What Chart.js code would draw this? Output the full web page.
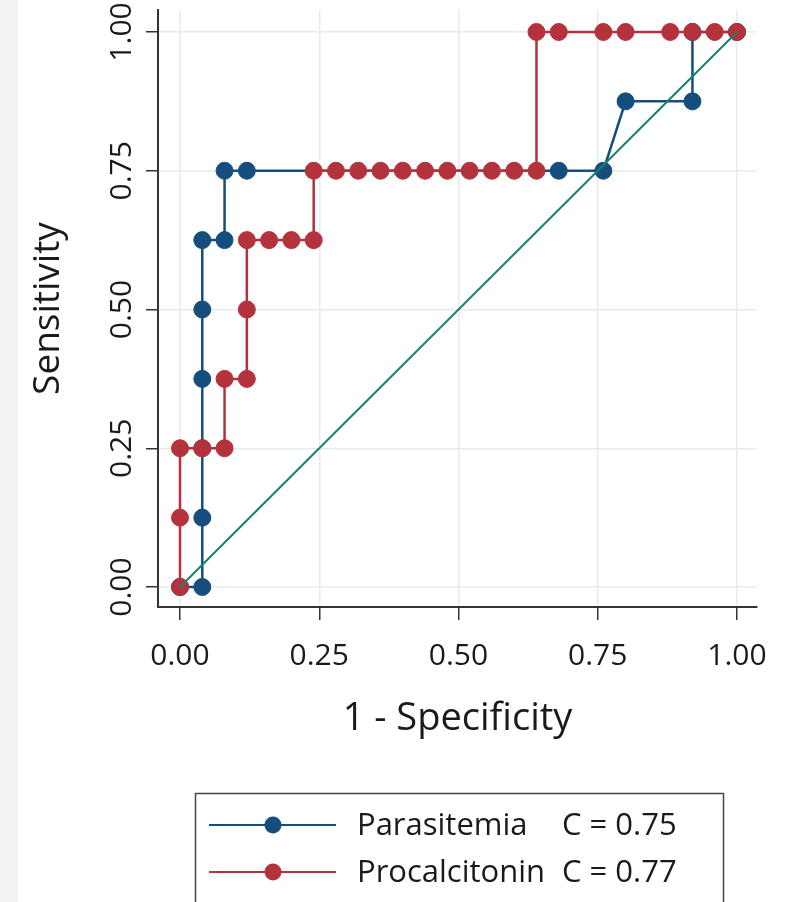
<!DOCTYPE html>
<html>
<head>
<meta charset="utf-8">
<script src="https://cdn.jsdelivr.net/npm/chart.js@4"></script>
<style>
  html, body { margin: 0; padding: 0; }
  body { background: linear-gradient(to right, #f2f2f2 18px, #ffffff 18px); width: 810px; height: 902px; overflow: hidden; }
  canvas { display: block; }
</style>
</head>
<body>
<canvas id="roc" width="810" height="902"></canvas>
<script>
// ROC curve points (1 - specificity, sensitivity)
const paraFpr = [0, 0.04, 0.04, 0.04, 0.04, 0.04, 0.04, 0.08, 0.08, 0.12, 0.68, 0.76, 0.80, 0.92, 0.92, 1.00];
const paraTpr = [0, 0, 0.125, 0.25, 0.375, 0.5, 0.625, 0.625, 0.75, 0.75, 0.75, 0.75, 0.875, 0.875, 1.00, 1.00];

const procFpr = [0, 0, 0, 0.04, 0.08, 0.08, 0.12, 0.12, 0.12, 0.16, 0.20, 0.24, 0.24,
  0.28, 0.32, 0.36, 0.40, 0.44, 0.48, 0.52, 0.56, 0.60, 0.64,
  0.64, 0.68, 0.76, 0.80, 0.88, 0.92, 0.96, 1.00];
const procTpr = [0, 0.125, 0.25, 0.25, 0.25, 0.375, 0.375, 0.5, 0.625, 0.625, 0.625, 0.625, 0.75,
  0.75, 0.75, 0.75, 0.75, 0.75, 0.75, 0.75, 0.75, 0.75, 0.75,
  1.00, 1.00, 1.00, 1.00, 1.00, 1.00, 1.00, 1.00];

const refX = [0, 1];
const refY = [0, 1];

const tickVals = [0, 0.25, 0.5, 0.75, 1];
const seriesNames = ['Parasitemia', 'Procalcitonin'];
const aucLabels = ['C = 0.75', 'C = 0.77'];

const blue = '#154e7d';
const red = '#b3323c';
const green = '#1a806a';
const axisColor = '#333';
const textColor = '#1a1a1a';
const fontFam = '"Open Sans", sans-serif';

function toPoints(xs, ys) {
  return xs.map((x, i) => ({ x: x, y: ys[i] }));
}

// y tick labels (rotated) and the boxed legend
const extras = {
  id: 'extras',
  afterDraw(chart) {
    const ctx = chart.ctx;
    const ys = chart.scales.y;
    ctx.save();
    ctx.fillStyle = textColor;
    ctx.font = '30px ' + fontFam;
    ctx.textAlign = 'center';
    ctx.textBaseline = 'middle';
    tickVals.forEach(v => {
      ctx.save();
      ctx.translate(122, ys.getPixelForValue(v));
      ctx.rotate(-Math.PI / 2);
      ctx.fillText(v.toFixed(2), 0, 0);
      ctx.restore();
    });

    // legend box
    ctx.strokeStyle = '#444';
    ctx.lineWidth = 1.5;
    ctx.strokeRect(195.5, 793.5, 528, 130);
    const rows = [825, 872];
    const cols = [blue, red];
    rows.forEach((ry, i) => {
      ctx.strokeStyle = cols[i];
      ctx.lineWidth = 2;
      ctx.beginPath();
      ctx.moveTo(209, ry);
      ctx.lineTo(336, ry);
      ctx.stroke();
      ctx.fillStyle = cols[i];
      ctx.beginPath();
      ctx.arc(273, ry, 8.5, 0, Math.PI * 2);
      ctx.fill();
      ctx.fillStyle = textColor;
      ctx.font = '31px ' + fontFam;
      ctx.textAlign = 'left';
      ctx.textBaseline = 'alphabetic';
      ctx.fillText(seriesNames[i], 357, ry + 10);
      ctx.fillText(aucLabels[i], 562, ry + 10);
    });
    ctx.restore();
  }
};

new Chart(document.getElementById('roc').getContext('2d'), {
  type: 'line',
  data: {
    datasets: [
      {
        label: 'Reference',
        data: toPoints(refX, refY),
        borderColor: green,
        borderWidth: 2,
        pointRadius: 0,
        order: 0
      },
      {
        label: seriesNames[1],
        data: toPoints(procFpr, procTpr),
        borderColor: red,
        backgroundColor: red,
        borderWidth: 2.5,
        pointRadius: 8.5,
        pointBorderWidth: 1,
        pointBorderColor: red,
        pointBackgroundColor: red,
        order: 1
      },
      {
        label: seriesNames[0],
        data: toPoints(paraFpr, paraTpr),
        borderColor: blue,
        backgroundColor: blue,
        borderWidth: 2.5,
        pointRadius: 8.5,
        pointBorderWidth: 1,
        pointBorderColor: blue,
        pointBackgroundColor: blue,
        order: 2
      }
    ]
  },
  options: {
    responsive: false,
    animation: false,
    layout: { padding: { left: 0, right: 53, top: 10, bottom: 0 } },
    plugins: {
      legend: { display: false },
      tooltip: { enabled: false }
    },
    elements: { line: { tension: 0 } },
    scales: {
      x: {
        type: 'linear',
        min: -0.0395,
        max: 1.0359,
        afterBuildTicks: s => { s.ticks = tickVals.map(v => ({ value: v })); },
        afterFit: s => { s.height = 295; },
        border: { display: true, color: axisColor, width: 2 },
        grid: { color: '#e6ecee', lineWidth: 1.5, tickColor: axisColor, tickLength: 13, tickWidth: 1.5 },
        ticks: {
          color: textColor,
          font: { family: fontFam, size: 30 },
          padding: 18,
          maxRotation: 0,
          callback: v => Number(v).toFixed(2)
        },
        title: {
          display: true,
          text: '1 - Specificity',
          color: textColor,
          font: { family: fontFam, size: 38 },
          padding: { top: 0, bottom: 160 }
        }
      },
      y: {
        type: 'linear',
        min: -0.036,
        max: 1.0396,
        afterBuildTicks: s => { s.ticks = tickVals.map(v => ({ value: v })); },
        afterFit: s => { s.width = 158; },
        border: { display: true, color: axisColor, width: 2 },
        grid: { color: '#e6ecee', lineWidth: 1.5, tickColor: axisColor, tickLength: 12, tickWidth: 1.5 },
        ticks: { display: false },
        title: {
          display: true,
          text: 'Sensitivity',
          color: textColor,
          font: { family: fontFam, size: 37 },
          padding: { top: 26, bottom: 0 }
        }
      }
    }
  },
  plugins: [extras]
});
</script>
</body>
</html>
